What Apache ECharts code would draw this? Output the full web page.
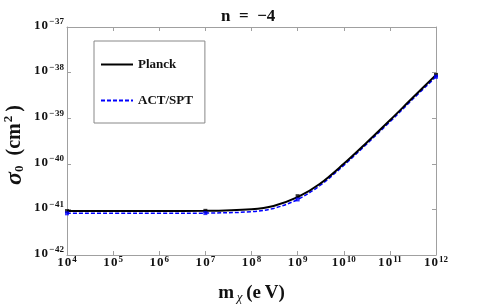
<!DOCTYPE html>
<html><head><meta charset="utf-8">
<script src="https://cdn.jsdelivr.net/npm/echarts@6/dist/echarts.min.js"></script>
<style>html,body{margin:0;padding:0;background:#fff}#c{width:491px;height:305px}</style>
</head><body><div id="c"></div>
<script>
// Data, sigma_0 in cm^2, m_chi in eV
const massEV = [1e4, 1e5, 1e6, 1e7, 1e8, 3e8, 1e9, 3e9, 1e10, 3e10, 1e11, 3e11, 1e12];
const planck = [0.92e-41, 0.92e-41, 0.92e-41, 0.93e-41, 1.01e-41, 1.19e-41, 1.85e-41, 3.6e-41, 1.0e-40, 2.8e-40, 9.0e-40, 2.7e-39, 8.9e-39];
const actspt = [0.82e-41, 0.82e-41, 0.82e-41, 0.83e-41, 0.89e-41, 1.05e-41, 1.65e-41, 3.3e-41, 0.92e-40, 2.6e-40, 8.3e-40, 2.5e-39, 8.1e-39];
const markerMass = [1e4, 1e7, 1e9, 1e12];
const planckMarkers = [0.92e-41, 0.93e-41, 1.95e-41, 8.9e-39];
const actMarkers = [0.82e-41, 0.83e-41, 1.65e-41, 8.1e-39];
const yMinExp = -42, yMaxExp = -37;

// ECharts rounds to 20 decimals, so plot sigma in units of 1e-42 cm^2
const Y_UNIT_EXP = -42;
const toUnit = v => v * Math.pow(10, -Y_UNIT_EXP);

const F = '"Liberation Serif", "DejaVu Serif", serif';
const pairs = (xs, ys) => xs.map((x, i) => [x, toUnit(ys[i])]);
const fmtExp = e => '{b|1\u200a0}{s|' + String(e).replace('-', '\u2212\u200a') + '}';
const xLabel = v => fmtExp(Math.round(Math.log10(v)));
const yLabel = v => fmtExp(Math.round(Math.log10(v)) + Y_UNIT_EXP);
const richLbl = {
  b: {fontFamily: F, fontWeight: 'bold', fontSize: 13, color: '#111'},
  s: {fontFamily: F, fontWeight: 'bold', fontSize: 9, color: '#111', padding: [0, 0, 7, 1]}
};
const axisLine = {show: true, lineStyle: {color: '#a0a0a0', width: 1}};
const axisTick = {show: true, inside: true, length: 4, lineStyle: {color: '#a0a0a0'}};
const yMin = Math.pow(10, yMinExp - Y_UNIT_EXP), yMax = Math.pow(10, yMaxExp - Y_UNIT_EXP);

const chart = echarts.init(document.getElementById('c'));
chart.setOption({
  animation: false,
  title: {text: 'n\u2002=\u2002\u22124', left: 216, top: 3,
    textStyle: {fontFamily: F, fontWeight: 'bold', fontSize: 17, color: '#111'}},
  grid: {left: 67, right: 55, top: 27, bottom: 50, containLabel: false, outerBoundsMode: 'none'},
  legend: {
    data: ['Planck', 'ACT/SPT'],
    orient: 'vertical', left: 94, top: 41,
    itemWidth: 32, itemHeight: 10, itemGap: 23,
    padding: [17, 12, 16, 6],
    borderColor: '#888', borderWidth: 1,
    itemStyle: {opacity: 0},
    textStyle: {fontFamily: F, fontWeight: 'bold', fontSize: 13, color: '#111'}
  },
  xAxis: [{
    type: 'log', logBase: 10, min: 1e4, max: 1e12,
    axisLine: axisLine, axisTick: axisTick, splitLine: {show: false}, minorTick: {show: false},
    axisLabel: {formatter: xLabel, rich: richLbl, margin: 0},
    name: '{m|m}{c|\u2009\u03c7}{u|\u2009(e\u2009V)}', nameLocation: 'middle', nameGap: 27,
    nameMoveOverlap: false,
    nameTextStyle: {rich: {
      m: {fontFamily: F, fontWeight: 'bold', fontSize: 19, color: '#111'},
      c: {fontFamily: F, fontStyle: 'italic', fontSize: 13, color: '#111', padding: [9, 0, 0, 0]},
      u: {fontFamily: F, fontWeight: 'bold', fontSize: 19, color: '#111'}
    }}
  }, {
    type: 'log', logBase: 10, min: 1e4, max: 1e12, position: 'top',
    axisLine: axisLine, axisTick: axisTick, axisLabel: {show: false}, splitLine: {show: false}
  }],
  yAxis: [{
    type: 'log', logBase: 10, min: yMin, max: yMax,
    axisLine: axisLine, axisTick: axisTick, splitLine: {show: false},
    axisLabel: {formatter: yLabel, rich: richLbl, margin: 3, padding: [0, 0, 3, 0]},
    name: '{g|\u03c3}{z|0}{u|\u2002(cm}{p|2}{u|\u2009)}', nameLocation: 'middle', nameRotate: 90, nameGap: 40,
    nameMoveOverlap: false,
    nameTextStyle: {padding: [0, 8, 0, 0], rich: {
      g: {fontFamily: F, fontStyle: 'italic', fontWeight: 'bold', fontSize: 24, color: '#111'},
      z: {fontFamily: F, fontWeight: 'bold', fontSize: 13, color: '#111', padding: [10, 0, 0, 0]},
      u: {fontFamily: F, fontWeight: 'bold', fontSize: 20, color: '#111'},
      p: {fontFamily: F, fontWeight: 'bold', fontSize: 13, color: '#111', padding: [0, 0, 12, 1]}
    }}
  }, {
    type: 'log', logBase: 10, min: yMin, max: yMax, position: 'right',
    axisLine: axisLine, axisTick: axisTick, axisLabel: {show: false}, splitLine: {show: false}
  }],
  series: [
    {name: 'Planck', type: 'line', data: pairs(massEV, planck), smooth: 0.35, symbol: 'none',
      lineStyle: {color: '#000', width: 2}, itemStyle: {color: '#000'}, z: 3},
    {name: 'ACT/SPT', type: 'line', data: pairs(massEV, actspt), smooth: 0.35, symbol: 'none',
      lineStyle: {color: '#0000ff', width: 1.5, type: [4, 2]}, itemStyle: {color: '#0000ff'}, z: 2},
    {name: 'Planck pts', type: 'scatter', data: pairs(markerMass, planckMarkers), symbol: 'rect',
      symbolSize: 4, itemStyle: {color: '#000'}, z: 4},
    {name: 'ACT pts', type: 'scatter', data: pairs(markerMass, actMarkers), symbol: 'rect',
      symbolSize: 4, itemStyle: {color: '#0000ff'}, z: 4}
  ]
});
</script></body></html>
